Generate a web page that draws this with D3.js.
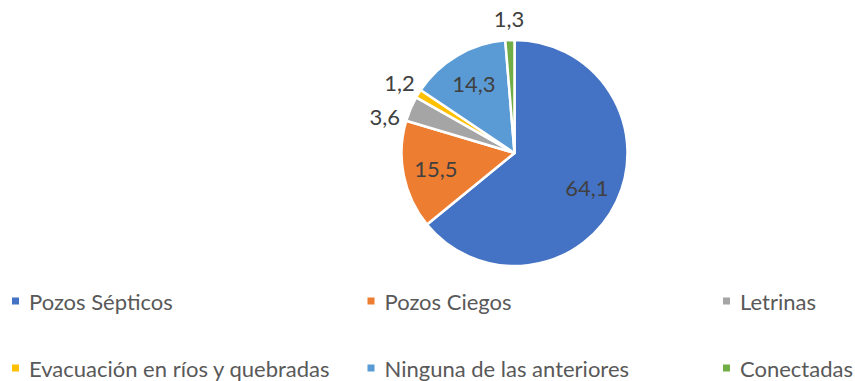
<!DOCTYPE html>
<html>
<head>
<meta charset="utf-8">
<script src="https://cdn.jsdelivr.net/npm/d3@7"></script>
<style>
  html, body { margin: 0; padding: 0; background: #fff; }
  svg { display: block; }
  text { font-family: Lato, "Open Sans", sans-serif; }
</style>
</head>
<body>
<svg id="chart" width="855" height="381"></svg>
<script>
// Disposición de excretas (%)
const categories = [
  "Pozos Sépticos",
  "Pozos Ciegos",
  "Letrinas",
  "Evacuación en ríos y quebradas",
  "Ninguna de las anteriores",
  "Conectadas"
];
const values = [64.1, 15.5, 3.6, 1.2, 14.3, 1.3];
const valueLabels = ["64,1", "15,5", "3,6", "1,2", "14,3", "1,3"];
const colors = ["#4472C4", "#ED7D31", "#A5A5A5", "#FFC000", "#5B9BD5", "#70AD47"];

const W = 855, H = 381;
const cx = 514.5, cy = 153, R = 113;

const svg = d3.select("#chart");
const color = d3.scaleOrdinal().domain(categories).range(colors);

const data = categories.map((c, i) => ({ cat: c, value: values[i], label: valueLabels[i] }));

const pie = d3.pie().value(d => d.value).sort(null);
const arcs = pie(data);
const arc = d3.arc().innerRadius(0).outerRadius(R);

const g = svg.append("g").attr("transform", `translate(${cx},${cy})`);

g.selectAll("path.slice")
  .data(arcs)
  .join("path")
  .attr("class", "slice")
  .attr("d", arc)
  .attr("fill", d => color(d.data.cat))
  .attr("stroke", "#fff")
  .attr("stroke-width", 2.5)
  .attr("stroke-linejoin", "round");

// Labels: large slices inside, small ones outside
const inner = d3.arc().innerRadius(R * 0.71).outerRadius(R * 0.71);
const outerR = 135;
const fs = 22;

const labels = arcs.map(d => {
  const mid = (d.startAngle + d.endAngle) / 2;
  const inside = d.data.value >= 10;
  if (inside) {
    const [x, y] = inner.centroid(d);
    return { d, x, y, inside };
  }
  return { d, x: Math.sin(mid) * outerR, y: -Math.cos(mid) * outerR, inside, side: Math.sin(mid) < 0 ? -1 : 1 };
});

// Keep outside labels on the same side from overlapping vertically
const gap = 34;
[-1, 1].forEach(side => {
  const group = labels.filter(l => !l.inside && l.side === side && Math.abs(l.x) > 40)
    .sort((a, b) => a.y - b.y);
  for (let i = 1; i < group.length; i++) {
    if (group[i].y < group[i - 1].y + gap) {
      group[i].y = group[i - 1].y + gap;
      group[i].x = side * Math.sqrt(Math.max(0, outerR * outerR - group[i].y * group[i].y));
    }
  }
});

g.selectAll("text.val")
  .data(labels)
  .join("text")
  .attr("class", "val")
  .attr("x", l => l.x)
  .attr("y", l => l.y)
  .attr("text-anchor", "middle")
  .attr("dominant-baseline", "central")
  .attr("font-size", fs)
  .attr("fill", "#404040")
  .text(l => l.d.data.label);

// Legend: 3 columns x 2 rows
const legendX = d3.scaleBand().domain([0, 1, 2]).range([12, 12 + 3 * 355.5]);
const legendY = d3.scalePoint().domain([0, 1]).range([301, 368]);

const leg = svg.append("g")
  .selectAll("g")
  .data(categories)
  .join("g")
  .attr("transform", (c, i) => `translate(${legendX(i % 3)},${legendY(Math.floor(i / 3))})`);

leg.append("rect")
  .attr("x", 0).attr("y", -3.5)
  .attr("width", 7).attr("height", 7)
  .attr("fill", c => color(c));

leg.append("text")
  .attr("x", 17)
  .attr("y", 0)
  .attr("dominant-baseline", "central")
  .attr("font-size", fs)
  .attr("fill", "#595959")
  .text(c => c);
</script>
</body>
</html>
